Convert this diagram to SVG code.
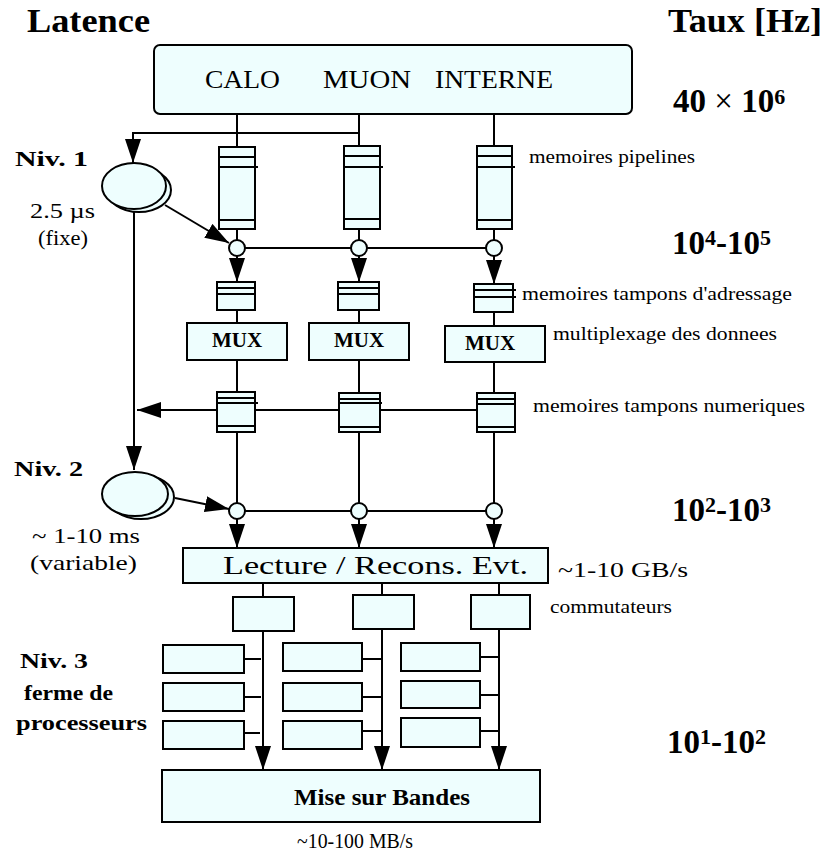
<svg xmlns="http://www.w3.org/2000/svg" width="825" height="855" viewBox="0 0 825 855">
<defs>
<style>
.b{fill:#eefefe;stroke:#000;stroke-width:2}
.l{fill:none;stroke:#000;stroke-width:2}
.t{font-family:"Liberation Serif","Times New Roman",serif;fill:#000}
.bd{font-weight:bold}
.arr{marker-end:url(#ah)}
</style>
<marker id="ah" markerUnits="userSpaceOnUse" markerWidth="26" markerHeight="18" refX="24" refY="8" orient="auto">
<path d="M0,0 L24,8 L0,16 z" fill="#000"/>
</marker>
</defs>
<rect width="825" height="855" fill="#fff"/>

<!-- labels -->
<g id="labels">
<text class="t bd" x="27" y="32" font-size="33" textLength="123" lengthAdjust="spacingAndGlyphs">Latence</text>
<text class="t bd" x="668" y="32" font-size="33" textLength="154" lengthAdjust="spacingAndGlyphs">Taux [Hz]</text>
<text class="t bd" x="673" y="112" font-size="33">40 <tspan font-weight="normal">×</tspan> 10<tspan font-size="22" dy="-8">6</tspan></text>
<text class="t bd" x="672" y="254" font-size="33">10<tspan font-size="22" dy="-9">4</tspan><tspan dy="9">-10</tspan><tspan font-size="22" dy="-9">5</tspan></text>
<text class="t bd" x="672" y="521" font-size="33">10<tspan font-size="22" dy="-9">2</tspan><tspan dy="9">-10</tspan><tspan font-size="22" dy="-9">3</tspan></text>
<text class="t bd" x="667" y="753" font-size="33">10<tspan font-size="22" dy="-9">1</tspan><tspan dy="9">-10</tspan><tspan font-size="22" dy="-9">2</tspan></text>
<text class="t bd" x="15" y="166" font-size="22" textLength="73" lengthAdjust="spacingAndGlyphs">Niv. 1</text>
<text class="t" x="30" y="218" font-size="22" textLength="65" lengthAdjust="spacingAndGlyphs">2.5 µs</text>
<text class="t" x="38" y="245" font-size="22" textLength="50" lengthAdjust="spacingAndGlyphs">(fixe)</text>
<text class="t bd" x="14" y="476" font-size="22" textLength="69" lengthAdjust="spacingAndGlyphs">Niv. 2</text>
<text class="t" x="32" y="543" font-size="22" textLength="108" lengthAdjust="spacingAndGlyphs">~ 1-10 ms</text>
<text class="t" x="30" y="570" font-size="22" textLength="107" lengthAdjust="spacingAndGlyphs">(variable)</text>
<text class="t bd" x="20" y="668" font-size="22" textLength="68" lengthAdjust="spacingAndGlyphs">Niv. 3</text>
<text class="t bd" x="24" y="700" font-size="22" textLength="89" lengthAdjust="spacingAndGlyphs">ferme de</text>
<text class="t bd" x="16" y="730" font-size="22" textLength="131" lengthAdjust="spacingAndGlyphs">processeurs</text>
<text class="t" x="529" y="163" font-size="18" textLength="166" lengthAdjust="spacingAndGlyphs">memoires pipelines</text>
<text class="t" x="522" y="300" font-size="18" textLength="270" lengthAdjust="spacingAndGlyphs">memoires tampons d'adressage</text>
<text class="t" x="553" y="340" font-size="18" textLength="224" lengthAdjust="spacingAndGlyphs">multiplexage des donnees</text>
<text class="t" x="533" y="412" font-size="18" textLength="272" lengthAdjust="spacingAndGlyphs">memoires tampons numeriques</text>
<text class="t" x="558" y="577" font-size="22" textLength="130" lengthAdjust="spacingAndGlyphs">~1-10 GB/s</text>
<text class="t" x="550" y="613" font-size="18" textLength="122" lengthAdjust="spacingAndGlyphs">commutateurs</text>
<text class="t" x="297" y="848" font-size="22" textLength="116" lengthAdjust="spacingAndGlyphs">~10-100 MB/s</text>
</g>

<!-- connectors -->
<g id="connectors">
<path class="l" d="M237,114 V147 M359,114 V146 M494,114 V146"/>
<path class="l arr" d="M359,133 H133 V163"/>
<path class="l" d="M237,229 V240 M359,229 V240 M494,229 V240"/>
<path class="l" d="M237,248 H494"/>
<path class="l arr" d="M165,205 L229,243"/>
<path class="l arr" d="M237,256 V282"/>
<path class="l arr" d="M359,256 V282"/>
<path class="l arr" d="M494,256 V284"/>
<path class="l" d="M237,310 V323 M359,310 V323 M494,312 V326"/>
<path class="l" d="M237,360 V392 M359,360 V393 M494,362 V393"/>
<path class="l arr" d="M217,410 H137"/>
<path class="l" d="M255,410 H339 M380,410 H477"/>
<path class="l" d="M237,432 V503 M359,432 V503 M494,432 V503"/>
<path class="l arr" d="M134,210 V470"/>
<path class="l arr" d="M175,498 L229,509"/>
<path class="l" d="M237,511 H494"/>
<path class="l arr" d="M237,519 V548"/>
<path class="l arr" d="M359,519 V548"/>
<path class="l arr" d="M494,519 V548"/>
<path class="l" d="M263,583 V597 M382,583 V595 M499,583 V595"/>
<path class="l arr" d="M263,631 V770"/>
<path class="l arr" d="M382,629 V770"/>
<path class="l arr" d="M499,629 V770"/>
<path class="l" d="M244,659 H261 M244,697 H261 M241,733 H260"/>
<path class="l" d="M362,659 H382 M362,697 H382 M362,731 H382"/>
<path class="l" d="M480,657 H499 M480,695 H499 M480,731 H499"/>
</g>

<!-- nodes -->
<g id="detectors">
<rect class="b" x="154" y="45" width="478" height="69" rx="6"/>
<text class="t" x="205" y="88" font-size="25" textLength="75" lengthAdjust="spacingAndGlyphs">CALO</text>
<text class="t" x="323" y="88" font-size="25" textLength="88" lengthAdjust="spacingAndGlyphs">MUON</text>
<text class="t" x="435" y="88" font-size="25" textLength="118" lengthAdjust="spacingAndGlyphs">INTERNE</text>
</g>

<g id="pipelines">
<rect class="b" x="219" y="147" width="36" height="82"/>
<path class="l" d="M219,157 H255 M219,167 H258 M219,220 H255"/>
<rect class="b" x="344" y="146" width="36" height="83"/>
<path class="l" d="M344,156 H380 M344,167 H383 M344,219 H380"/>
<rect class="b" x="477" y="146" width="35" height="83"/>
<path class="l" d="M477,156 H512 M477,167 H515 M477,220 H512"/>
</g>

<g id="l1-circles">
<circle class="b" cx="237" cy="248" r="8"/>
<circle class="b" cx="359" cy="248" r="8"/>
<circle class="b" cx="494" cy="248" r="8"/>
</g>

<g id="niv1">
<ellipse class="b" cx="139" cy="190" rx="32" ry="22"/>
<ellipse class="b" cx="134" cy="186" rx="32" ry="23"/>
</g>

<g id="tampons-adressage">
<rect class="b" x="217" y="282" width="38" height="28"/>
<path class="l" d="M217,288 H255 M217,294 H255"/>
<rect class="b" x="338" y="282" width="41" height="28"/>
<path class="l" d="M338,288 H379 M338,294 H379"/>
<rect class="b" x="474" y="284" width="39" height="28"/>
<path class="l" d="M474,290 H516 M474,297 H516"/>
</g>

<g id="mux">
<rect class="b" x="187" y="323" width="100" height="37"/>
<text class="t bd" x="237" y="347" font-size="21" text-anchor="middle">MUX</text>
<rect class="b" x="309" y="323" width="100" height="37"/>
<text class="t bd" x="359" y="347" font-size="21" text-anchor="middle">MUX</text>
<rect class="b" x="445" y="326" width="100" height="36"/>
<text class="t bd" x="490" y="350" font-size="21" text-anchor="middle">MUX</text>
</g>

<g id="tampons-numeriques">
<rect class="b" x="217" y="392" width="38" height="40"/>
<path class="l" d="M217,398 H255 M217,403 H258 M217,426 H255"/>
<rect class="b" x="339" y="393" width="41" height="39"/>
<path class="l" d="M339,399 H380 M339,403 H382 M339,427 H380"/>
<rect class="b" x="477" y="393" width="38" height="39"/>
<path class="l" d="M477,399 H515 M477,404 H515 M477,427 H515"/>
</g>

<g id="niv2">
<ellipse class="b" cx="141" cy="497" rx="33" ry="22"/>
<ellipse class="b" cx="135" cy="494" rx="33" ry="22"/>
</g>

<g id="l2-circles">
<circle class="b" cx="237" cy="511" r="8"/>
<circle class="b" cx="359" cy="511" r="8"/>
<circle class="b" cx="494" cy="511" r="8"/>
</g>

<g id="lecture">
<rect class="b" x="183" y="548" width="365" height="35"/>
<text class="t" x="223" y="574" font-size="26" textLength="305" lengthAdjust="spacingAndGlyphs">Lecture / Recons. Evt.</text>
</g>

<g id="commutateurs">
<rect class="b" x="233" y="597" width="61" height="34"/>
<rect class="b" x="353" y="595" width="61" height="34"/>
<rect class="b" x="471" y="595" width="59" height="34"/>
</g>

<g id="processeurs">
<rect class="b" x="163" y="645" width="81" height="28"/>
<rect class="b" x="163" y="683" width="81" height="28"/>
<rect class="b" x="163" y="721" width="81" height="28"/>
<rect class="b" x="283" y="643" width="79" height="28"/>
<rect class="b" x="283" y="683" width="79" height="28"/>
<rect class="b" x="283" y="721" width="79" height="28"/>
<rect class="b" x="401" y="643" width="79" height="28"/>
<rect class="b" x="401" y="681" width="79" height="27"/>
<rect class="b" x="401" y="718" width="79" height="29"/>
</g>

<g id="bandes">
<rect class="b" x="162" y="770" width="378" height="52"/>
<text class="t bd" x="294" y="805" font-size="24" textLength="176" lengthAdjust="spacingAndGlyphs">Mise sur Bandes</text>
</g>
</svg>
